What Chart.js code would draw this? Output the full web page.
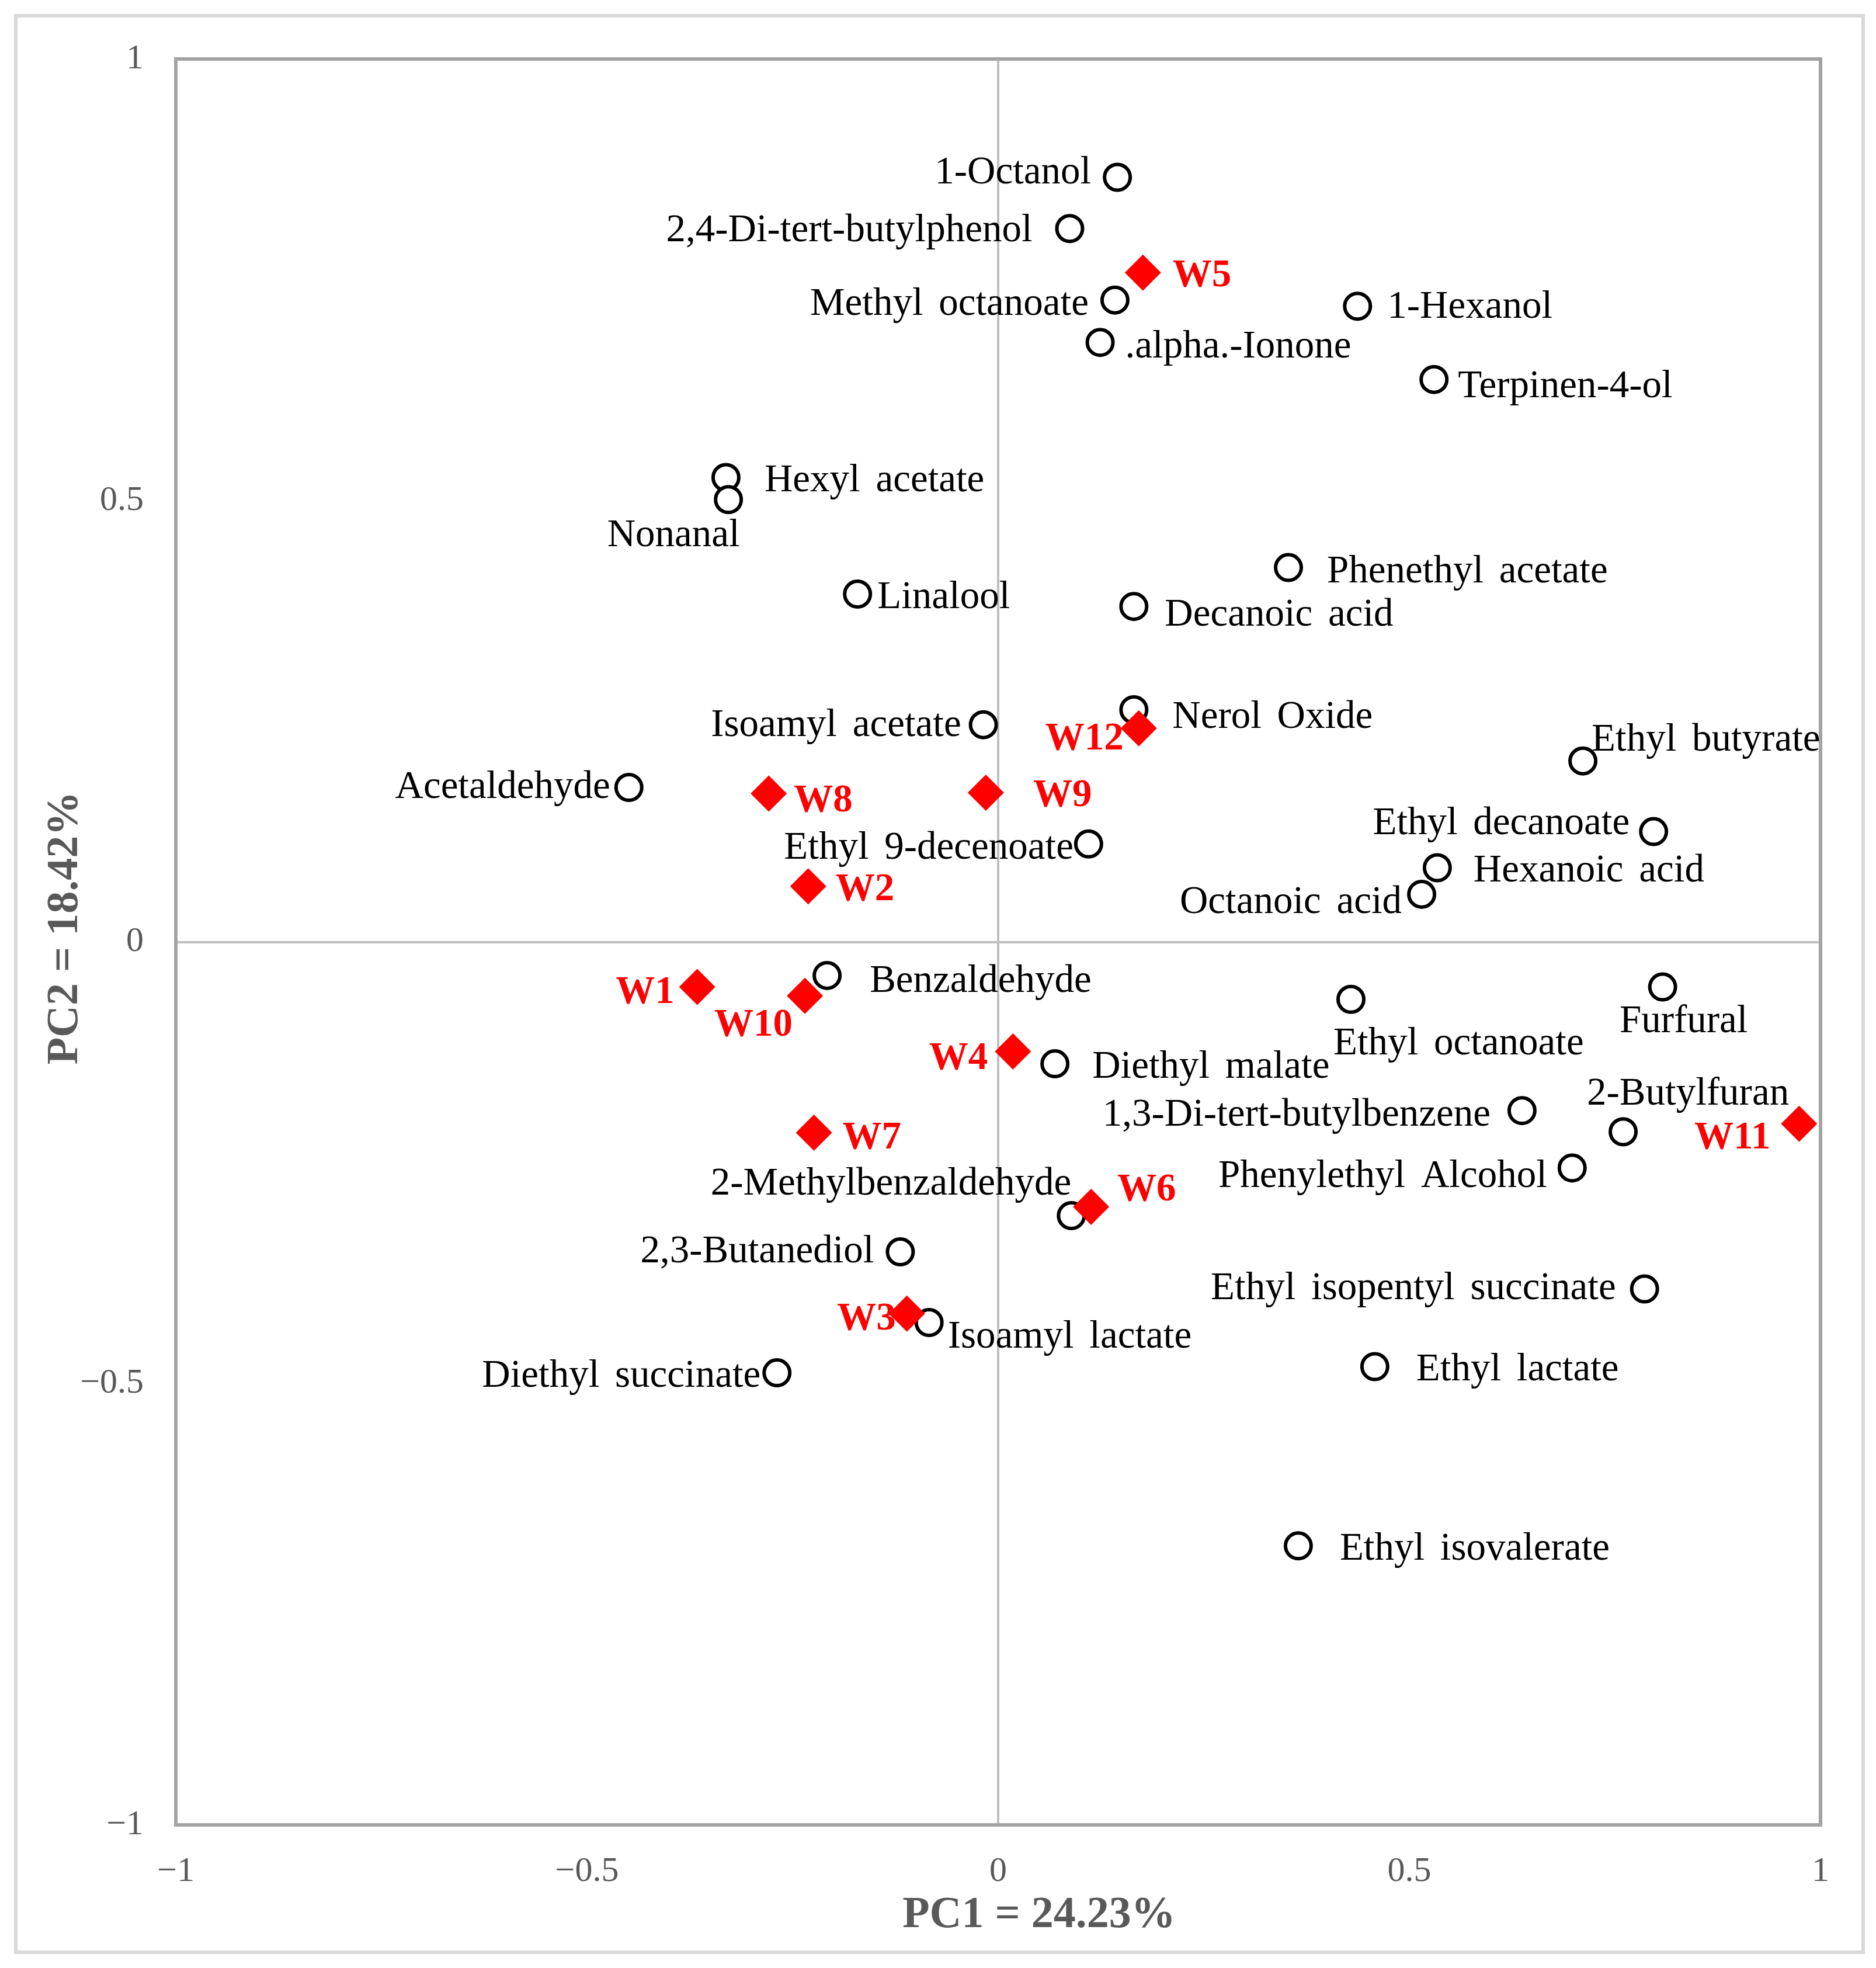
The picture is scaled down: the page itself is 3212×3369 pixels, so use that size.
<!DOCTYPE html>
<html>
<head>
<meta charset="utf-8">
<title>PCA biplot</title>
<script src="https://cdn.jsdelivr.net/npm/chart.js@4.4.0/dist/chart.umd.min.js"></script>
<style>
  html, body { margin: 0; padding: 0; background: #fff; }
  canvas { display: block; }
</style>
</head>
<body>
<canvas id="pca" width="3212" height="3369"></canvas>
<script>
// volatile compounds (loadings)
const compoundNames = ['1-Octanol', '2,4-Di-tert-butylphenol', 'Methyl octanoate', '.alpha.-Ionone', '1-Hexanol',
    'Terpinen-4-ol', 'Hexyl acetate', 'Nonanal', 'Linalool', 'Phenethyl acetate', 'Decanoic acid', 'Nerol Oxide',
    'Isoamyl acetate', 'Ethyl butyrate', 'Acetaldehyde', 'Ethyl 9-decenoate', 'Ethyl decanoate', 'Hexanoic acid',
    'Octanoic acid', 'Benzaldehyde', 'Ethyl octanoate', 'Furfural', 'Diethyl malate', '1,3-Di-tert-butylbenzene',
    '2-Butylfuran', 'Phenylethyl Alcohol', '2-Methylbenzaldehyde', '2,3-Butanediol', 'Ethyl isopentyl succinate',
    'Isoamyl lactate', 'Diethyl succinate', 'Ethyl lactate', 'Ethyl isovalerate'];
const compoundPC1 = [0.145, 0.087, 0.142, 0.124, 0.437, 0.530, -0.331, -0.328, -0.171, 0.353, 0.165, 0.165,
    -0.018, 0.711, -0.449, 0.110, 0.797, 0.534, 0.515, -0.208, 0.429, 0.808, 0.069, 0.637,
    0.760, 0.698, 0.089, -0.119, 0.786, -0.084, -0.269, 0.458, 0.365];
const compoundPC2 = [0.866, 0.808, 0.727, 0.679, 0.720, 0.637, 0.526, 0.501, 0.394, 0.424, 0.380, 0.263,
    0.246, 0.205, 0.175, 0.111, 0.125, 0.084, 0.054, -0.038, -0.065, -0.051, -0.138, -0.191,
    -0.215, -0.256, -0.310, -0.351, -0.393, -0.431, -0.488, -0.481, -0.684];

// wine samples (scores)
const sampleNames = ['W1', 'W2', 'W3', 'W4', 'W5', 'W6', 'W7', 'W8', 'W9', 'W10', 'W11', 'W12'];
const samplePC1 = [-0.366, -0.231, -0.111, 0.018, 0.176, 0.113, -0.224, -0.279, -0.015, -0.235, 0.974, 0.171];
const samplePC2 = [-0.051, 0.063, -0.421, -0.124, 0.758, -0.300, -0.216, 0.168, 0.169, -0.061, -0.206, 0.242];

const axisTicks = [-1, -0.5, 0, 0.5, 1];
const xTitle = 'PC1 = 24.23%';
const yTitle = 'PC2 = 18.42%';

// where each text sits next to its marker: [textAlign, dx, dy] in px
const compoundLabelPos = [
    ['right', -45, -11], ['right', -64, 0], ['right', -45, 4], ['left', 43, 4], ['left', 51, -2],
    ['left', 41, 9], ['left', 66, 2], ['center', -94, 58], ['left', 34, 2], ['left', 66, 4],
    ['left', 53, 11], ['left', 66, 9], ['right', -38, -2], ['left', 15, -39], ['right', -32, -4],
    ['right', -26, 4], ['right', -41, -17], ['left', 62, 2], ['right', -34, 11], ['left', 73, 6],
    ['left', -30, 73], ['center', 36, 56], ['left', 64, 2], ['right', -54, 4], ['center', 111, -68],
    ['right', -43, 11], ['right', 0, -58], ['right', -45, -4], ['right', -49, -4], ['left', 32, 21],
    ['right', -28, 2], ['left', 71, 2], ['left', 71, 2]];
const sampleLabelPos = [
    ['right', -39, 6], ['left', 47, 2], ['right', -19, 6], ['right', -43, 9], ['left', 51, 2],
    ['left', 45, -32], ['left', 49, 6], ['left', 43, 9], ['left', 81, 2], ['center', -88, 47],
    ['right', -49, 21], ['right', -26, 15]];

const SERIF = '"Liberation Serif", "Times New Roman", serif';
const GREY = '#595959';

// frame round the whole figure and round the plot area
const framePlugin = {
    id: 'frames',
    beforeDraw(chart) {
        const ctx = chart.ctx;
        ctx.save();
        ctx.fillStyle = '#fff';
        ctx.fillRect(0, 0, chart.width, chart.height);
        ctx.strokeStyle = '#d9d9d9';
        ctx.lineWidth = 6;
        ctx.strokeRect(27, 27, 3163, 3315);
        ctx.restore();
    },
    beforeDatasetsDraw(chart) {
        const a = chart.chartArea, ctx = chart.ctx;
        ctx.save();
        ctx.strokeStyle = '#a3a3a3';
        ctx.lineWidth = 6;
        ctx.strokeRect(a.left, a.top, a.right - a.left, a.bottom - a.top);
        ctx.restore();
    },
    afterDraw(chart) {
        // axis titles, placed like the original (not centred on the axes)
        const a = chart.chartArea, ctx = chart.ctx;
        ctx.save();
        ctx.fillStyle = GREY;
        ctx.font = 'bold 76px ' + SERIF;
        ctx.textAlign = 'center';
        ctx.textBaseline = 'middle';
        ctx.fillText(xTitle, (a.left + a.right) / 2 + 70, a.bottom + 155);
        ctx.translate(a.left - 189, (a.top + a.bottom) / 2 - 24);
        ctx.rotate(-Math.PI / 2);
        ctx.fillText(yTitle, 0, 0);
        ctx.restore();
    }
};

const labelPlugin = {
    id: 'pointLabels',
    afterDatasetsDraw(chart) {
        const ctx = chart.ctx;
        chart.data.datasets.forEach((ds, i) => {
            const meta = chart.getDatasetMeta(i);
            meta.data.forEach((pt, j) => {
                const [align, dx, dy] = ds.labelPos[j];
                ctx.save();
                ctx.font = ds.labelFont;
                ctx.fillStyle = ds.labelColor;
                ctx.textAlign = align;
                ctx.textBaseline = 'middle';
                ctx.wordSpacing = '10px';
                ctx.fillText(ds.names[j], pt.x + dx, pt.y + dy + 4);
                ctx.restore();
            });
        });
    }
};

const zeroGrid = (c) => c.tick && c.tick.value === 0 ? '#bfbfbf' : 'rgba(0,0,0,0)';
const tickText = (v) => String(v).replace('-', '\u2212');

new Chart(document.getElementById('pca'), {
    type: 'scatter',
    data: {
        datasets: [
            {
                label: 'Samples',
                names: sampleNames,
                labelPos: sampleLabelPos,
                labelFont: 'bold 67px ' + SERIF,
                labelColor: '#ff0000',
                data: samplePC1.map((x, i) => ({x: x, y: samplePC2[i]})),
                pointStyle: 'rectRot',
                pointRadius: 31,
                pointHoverRadius: 31,
                backgroundColor: '#ff0000',
                borderWidth: 0,
                order: 0
            },
            {
                label: 'Compounds',
                names: compoundNames,
                labelPos: compoundLabelPos,
                labelFont: '67px ' + SERIF,
                labelColor: '#000',
                data: compoundPC1.map((x, i) => ({x: x, y: compoundPC2[i]})),
                pointStyle: 'circle',
                pointRadius: 22,
                pointHoverRadius: 22,
                backgroundColor: '#fff',
                borderColor: '#000',
                borderWidth: 6,
                order: 1
            }
        ]
    },
    options: {
        responsive: false,
        devicePixelRatio: 1,
        animation: false,
        layout: {padding: {left: 40, top: 101, right: 95, bottom: 52}},
        plugins: {legend: {display: false}, tooltip: {enabled: false}},
        scales: {
            x: {
                type: 'linear', min: -1, max: 1,
                afterBuildTicks: (s) => { s.ticks = axisTicks.map(v => ({value: v})); },
                afterFit: (s) => { s.height = 193; },
                grid: {color: zeroGrid, lineWidth: 4, drawTicks: false},
                border: {display: false},
                ticks: {callback: tickText, color: GREY, font: {family: SERIF, size: 60}, padding: 44, maxRotation: 0},
                title: {display: false}
            },
            y: {
                type: 'linear', min: -1, max: 1,
                afterBuildTicks: (s) => { s.ticks = axisTicks.map(v => ({value: v})); },
                afterFit: (s) => { s.width = 261; },
                grid: {color: zeroGrid, lineWidth: 4, drawTicks: false},
                border: {display: false},
                ticks: {callback: tickText, color: GREY, font: {family: SERIF, size: 60}, padding: 55},
                title: {display: false}
            }
        }
    },
    plugins: [framePlugin, labelPlugin]
});
</script>
</body>
</html>
